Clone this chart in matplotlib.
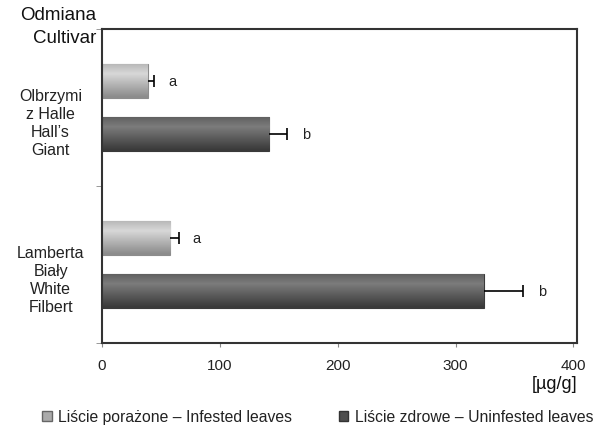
import numpy as np
import matplotlib.pyplot as plt

plt.rcParams['font.family'] = ['Liberation Sans', 'DejaVu Sans']

cultivars = ['Lamberta\nBiały\nWhite\nFilbert', 'Olbrzymi\nz Halle\nHall\u2019s\nGiant']
infested = [58, 39]
infested_err = [7, 5]
uninfested = [324, 142]
uninfested_err = [33, 15]
infested_sig = ['a', 'a']
uninfested_sig = ['b', 'b']
series_labels = ['Liście porażone \u2013 Infested leaves', 'Liście zdrowe \u2013 Uninfested leaves']


def shaded_barh(ax, y, widths, height, base, light, dark):
    bars = ax.barh(y, widths, height=height, color=base, edgecolor=dark, linewidth=0.8, zorder=2)
    grad = np.linspace(0, 1, 64)
    prof = np.clip(1 - np.abs(grad - 0.3) * 1.5, 0, 1)[:, None]
    c1 = np.array(plt.matplotlib.colors.to_rgb(light))
    c2 = np.array(plt.matplotlib.colors.to_rgb(dark))
    img = c2[None, None, :] * (1 - prof[..., None]) + c1[None, None, :] * prof[..., None]
    img = np.repeat(img, 2, axis=1)
    for b in bars:
        x0, y0 = b.get_x(), b.get_y()
        im = ax.imshow(img, extent=(x0, x0 + b.get_width(), y0, y0 + b.get_height()),
                       aspect='auto', origin='upper', zorder=2.5, interpolation='bilinear')
        im.set_clip_path(b)
    return bars


def right_errorbar(ax, x, y, err):
    x = np.asarray(x)
    ends = x + np.asarray(err)
    ax.hlines(y, x, ends, color='black', lw=1.2, zorder=3)
    ax.plot(ends, y, ls='none', marker='|', ms=8, mew=1.2, color='black', zorder=3)


fig = plt.figure(figsize=(5.94, 4.27), dpi=100)
ax = fig.add_axes([0.1717, 0.1944, 0.7997, 0.7353])

pos = np.arange(len(cultivars))
off = 0.166
h = 0.217
shaded_barh(ax, pos + off, infested, h, '#ababab', '#d8d8d8', '#8c8c8c')
shaded_barh(ax, pos - off, uninfested, h, '#4e4e4e', '#7c7c7c', '#3a3a3a')

right_errorbar(ax, infested, pos + off, infested_err)
right_errorbar(ax, uninfested, pos - off, uninfested_err)

for i in range(len(pos)):
    ax.text(infested[i] + infested_err[i] + 12, pos[i] + off, infested_sig[i],
            va='center', ha='left', fontsize=10.5, color='#222222')
    ax.text(uninfested[i] + uninfested_err[i] + 13, pos[i] - off, uninfested_sig[i],
            va='center', ha='left', fontsize=10.5, color='#222222')

ax.set_xlim(0, 403)
ax.set_ylim(-0.5, 1.5)
ax.set_xticks([0, 100, 200, 300, 400])
ax.tick_params(axis='x', length=3, color='#888888', labelsize=11, labelcolor='#222222', pad=8)
ax.set_yticks(pos - 0.075)
ax.set_yticklabels(cultivars, fontsize=11.5, color='#222222', ha='center', linespacing=1.25)
ax.tick_params(axis='y', which='major', length=0, pad=37)
ax.set_yticks([-0.5, 0.5, 1.5], minor=True)
ax.tick_params(axis='y', which='minor', length=4, color='#888888')

for s in ax.spines.values():
    s.set_color('#333333')
    s.set_linewidth(1.5)

fig.text(0.162, 0.963, 'Odmiana', ha='right', va='center', fontsize=13.5, color='#111111')
fig.text(0.162, 0.909, 'Cultivar', ha='right', va='center', fontsize=13.5, color='#111111')
fig.text(0.972, 0.100, '[\u00b5g/g]', ha='right', va='center', fontsize=13, color='#111111')

handles = [plt.Rectangle((0, 0), 1, 1, facecolor='#ababab', edgecolor='#666666'),
           plt.Rectangle((0, 0), 1, 1, facecolor='#4e4e4e', edgecolor='#333333')]
fig.legend(handles, series_labels, loc='center', bbox_to_anchor=(0.535, 0.022), ncol=2,
           frameon=False, fontsize=11.3, handlelength=0.6, handleheight=0.6,
           handletextpad=0.4, columnspacing=3.0, labelcolor='#222222')

fig.savefig('out.png', dpi=100)
